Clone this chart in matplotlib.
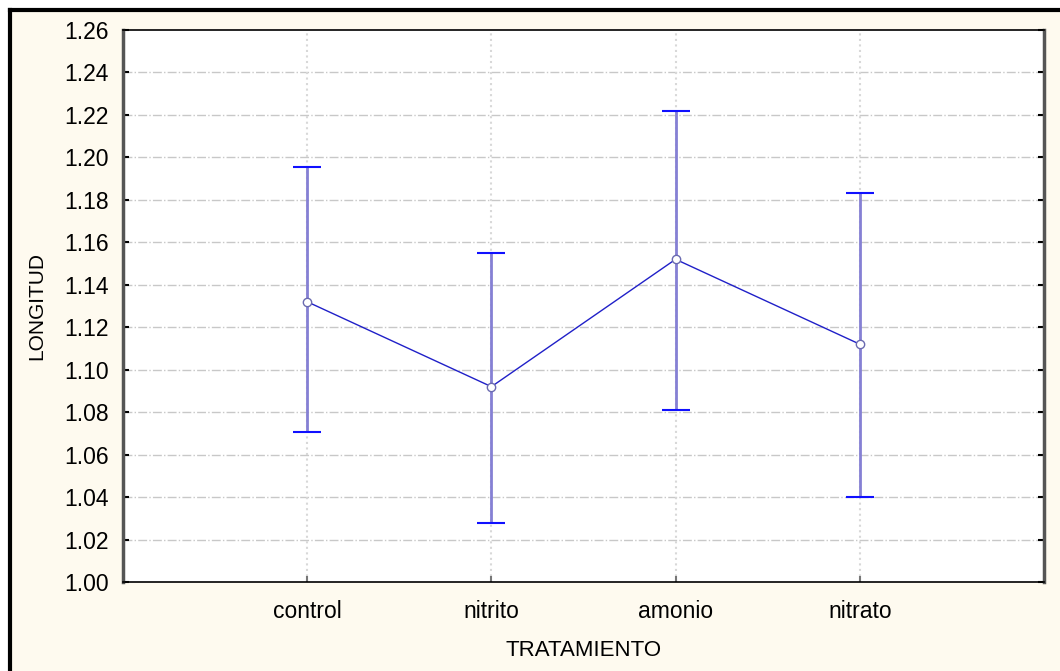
import matplotlib
matplotlib.use("Agg")
import matplotlib.pyplot as plt
from matplotlib.lines import Line2D

plt.rcParams['font.family'] = ['Liberation Sans', 'DejaVu Sans']

# data
tratamientos = ['control', 'nitrito', 'amonio', 'nitrato']
medias = [1.132, 1.092, 1.152, 1.112]
sup = [1.1955, 1.155, 1.222, 1.183]
inf = [1.0705, 1.028, 1.081, 1.040]
yticks = [1.00, 1.02, 1.04, 1.06, 1.08, 1.10, 1.12, 1.14, 1.16, 1.18, 1.20, 1.22, 1.24, 1.26]

W, H = 1060, 671
fig = plt.figure(figsize=(W / 100, H / 100), dpi=100)
fig.patch.set_facecolor('white')

# cream panel with thick black frame on top and left
panel = plt.Rectangle((10 / W, 0), 1 - 10 / W, 1 - 10 / H, transform=fig.transFigure,
                      facecolor='#fefaef', edgecolor='none', zorder=-5)
fig.add_artist(panel)
fig.add_artist(Line2D([10 / W, 1], [1 - 10 / H, 1 - 10 / H], color='black', lw=3,
                      transform=fig.transFigure, zorder=-4))
fig.add_artist(Line2D([10 / W, 10 / W], [0, 1 - 10 / H], color='black', lw=3,
                      transform=fig.transFigure, zorder=-4))

ax = fig.add_axes([123 / W, 1 - 582 / H, (1044 - 123) / W, (582 - 30) / H])
ax.set_zorder(1)
ax.set_facecolor('white')

x = list(range(1, len(tratamientos) + 1))
lower_err = [m - l for m, l in zip(medias, inf)]
upper_err = [u - m for m, u in zip(medias, sup)]

# grid
for yv in yticks[1:-1]:
    ax.axhline(yv, color='#c8c8c8', lw=1, ls='-.', zorder=1)
for xv in x:
    ax.axvline(xv, color='#d8d8d8', lw=1.5, ls=':', zorder=1)

# error bars: lavender stems, blue caps
ax.vlines(x, inf, sup, color='#8580d4', lw=2, zorder=2)
ax.errorbar(x, medias, yerr=[lower_err, upper_err], fmt='none', ecolor='#1010ff',
            elinewidth=0, capsize=10, capthick=1.5, zorder=3)

ax.plot(x, medias, color='#2020c8', lw=1, zorder=4)
ax.plot(x, medias, 'o', ms=6, mfc='white', mec='#6a6ab0', mew=1, zorder=5)

ax.set_xlim(0, 5)
ax.set_ylim(1.00, 1.26)
ax.set_xticks(x)
ax.set_xticklabels(tratamientos, fontsize=16.5)
ax.set_yticks(yticks)
ax.set_yticklabels([f'{v:.2f}' for v in yticks], fontsize=16.5)
ax.tick_params(axis='y', direction='in', length=4, width=1.5, right=True, pad=10)
ax.tick_params(axis='x', direction='in', length=4, width=1.5, color='#777777', pad=13)

ax.set_xlabel('TRATAMIENTO', fontsize=16, labelpad=12)
ax.set_ylabel('LONGITUD', fontsize=15, labelpad=13)

for side in ['left', 'right']:
    ax.spines[side].set_color('#555555')
    ax.spines[side].set_linewidth(2.5)
for side in ['top', 'bottom']:
    ax.spines[side].set_color('black')
    ax.spines[side].set_linewidth(1.2)

fig.savefig('out.png', dpi=100, facecolor=fig.get_facecolor())
